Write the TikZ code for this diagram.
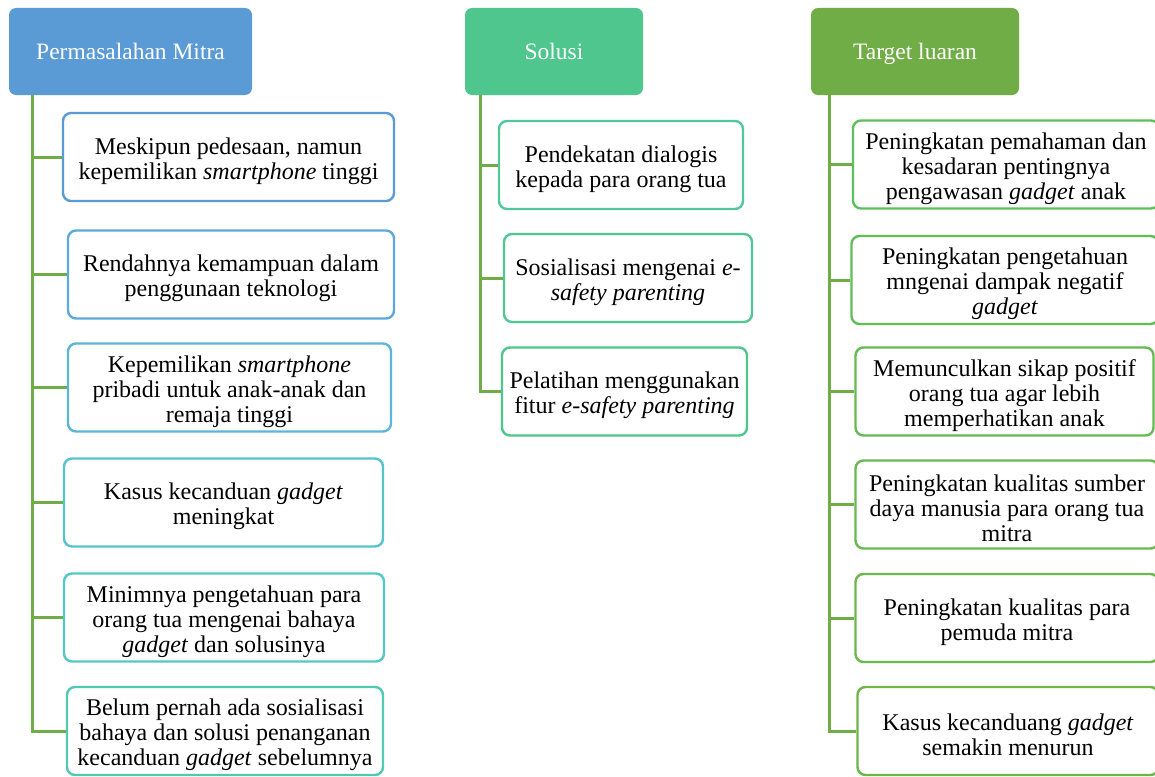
\documentclass[tikz,border=0pt]{standalone}
\usepackage{fontspec}
\setmainfont{Liberation Serif}
\usetikzlibrary{calc}
\definecolor{hblue}{HTML}{5B9BD5}
\definecolor{hteal}{HTML}{50C68F}
\definecolor{hgreen}{HTML}{70AD47}
\definecolor{la}{HTML}{5B9BD5}
\definecolor{lb}{HTML}{5DA9DA}
\definecolor{lc}{HTML}{5AB7D7}
\definecolor{ld}{HTML}{55C4CF}
\definecolor{le}{HTML}{52C9C4}
\definecolor{lf}{HTML}{50C8B2}
\definecolor{ma}{HTML}{52C79C}
\definecolor{mb}{HTML}{50C795}
\definecolor{mc}{HTML}{4FC68D}
\definecolor{ra}{HTML}{5CC15C}
\definecolor{rb}{HTML}{60BE57}
\definecolor{rc}{HTML}{64BB52}
\definecolor{rd}{HTML}{68B94F}
\definecolor{re}{HTML}{6BB74C}
\definecolor{rf}{HTML}{6EB54A}
\newcommand{\topstrut}{\rule{0pt}{24.5pt}}
\tikzset{
  hdr/.style={draw=none, fill=#1, rounded corners=7pt, text=white, align=center,
    font=\fontsize{23.5}{25}\selectfont, inner sep=0pt, text height=20.5pt, text depth=5pt},
  itembox/.style={draw=#1, line width=2.4pt, fill=white, rounded corners=8pt, align=center,
    font=\fontsize{24}{25}\selectfont, inner sep=0pt},
  trunk/.style={draw=hgreen, line width=3pt},
}
\begin{document}
\begin{tikzpicture}[x=1pt,y=-1pt]
\useasboundingbox (0,0) rectangle (1155,776);
\clip (0,0) rectangle (1155,776);
\fill[white] (0,0) rectangle (1155,776);
% headers
\node[hdr=hblue, minimum width=243pt, minimum height=87pt] (h1) at (130.5,51.5) {Permasalahan Mitra};
\node[hdr=hteal, minimum width=178pt, minimum height=87pt] (h2) at (554,51.5) {Solusi};
\node[hdr=hgreen, minimum width=208pt, minimum height=87pt] (h3) at (915,51.5) {Target luaran};
\coordinate (tA) at ([xshift=24pt]h1.south west);
\coordinate (tB) at ([xshift=16pt]h2.south west);
\coordinate (tC) at ([xshift=19pt]h3.south west);
% left column
\node[itembox=la, minimum width=331pt, minimum height=88pt] (l1) at (228.5,157) {\topstrut Meskipun pedesaan, namun\\kepemilikan \textit{smartphone} tinggi};
\node[itembox=lb, minimum width=326pt, minimum height=88pt] (l2) at (231,274.5) {\topstrut Rendahnya kemampuan dalam\\penggunaan teknologi};
\node[itembox=lc, minimum width=323pt, minimum height=88pt] (l3) at (229.5,387.5) {\topstrut Kepemilikan \textit{smartphone}\\pribadi untuk anak-anak dan\\remaja tinggi};
\node[itembox=ld, minimum width=319pt, minimum height=88pt] (l4) at (223.5,502.5) {\topstrut Kasus kecanduan \textit{gadget}\\meningkat};
\node[itembox=le, minimum width=320pt, minimum height=88pt] (l5) at (224,617.5) {\topstrut Minimnya pengetahuan para\\orang tua mengenai bahaya\\\textit{gadget} dan solusinya};
\node[itembox=lf, minimum width=316pt, minimum height=88pt] (l6) at (225,731) {\topstrut Belum pernah ada sosialisasi\\bahaya dan solusi penanganan\\kecanduan \textit{gadget} sebelumnya};
% middle column
\node[itembox=ma, minimum width=244pt, minimum height=88pt] (m1) at (621,165) {\topstrut Pendekatan dialogis\\kepada para orang tua};
\node[itembox=mb, minimum width=248pt, minimum height=88pt] (m2) at (628,278) {\topstrut Sosialisasi mengenai \textit{e-}\\\textit{safety parenting}};
\node[itembox=mc, minimum width=245pt, minimum height=88pt] (m3) at (624.5,391.5) {\topstrut Pelatihan menggunakan\\fitur \textit{e-safety parenting}};
% right column
\node[itembox=ra, minimum width=306pt, minimum height=88pt] (r1) at (1006,164.5) {\topstrut Peningkatan pemahaman dan\\kesadaran pentingnya\\pengawasan \textit{gadget} anak};
\node[itembox=rb, minimum width=307pt, minimum height=88pt] (r2) at (1005,280) {\topstrut Peningkatan pengetahuan\\mngenai dampak negatif\\\textit{gadget}};
\node[itembox=rc, minimum width=298pt, minimum height=88pt] (r3) at (1004.5,391.5) {\topstrut Memunculkan sikap positif\\orang tua agar lebih\\memperhatikan anak};
\node[itembox=rd, minimum width=303pt, minimum height=88pt] (r4) at (1007,504.5) {\topstrut Peningkatan kualitas sumber\\daya manusia para orang tua\\mitra};
\node[itembox=re, minimum width=303pt, minimum height=88pt] (r5) at (1007,618) {\topstrut Peningkatan kualitas para\\pemuda mitra};
\node[itembox=rf, minimum width=301pt, minimum height=88pt] (r6) at (1008,731) {\topstrut Kasus kecanduang \textit{gadget}\\semakin menurun};
% connectors
\draw[trunk] (tA) -- (tA |- l6.west) -- (l6.west);
\foreach \n in {l1,l2,l3,l4,l5} \draw[trunk] (tA |- \n.west) -- (\n.west);
\draw[trunk] (tB) -- (tB |- m3.west) -- (m3.west);
\foreach \n in {m1,m2} \draw[trunk] (tB |- \n.west) -- (\n.west);
\draw[trunk] (tC) -- (tC |- r6.west) -- (r6.west);
\foreach \n in {r1,r2,r3,r4,r5} \draw[trunk] (tC |- \n.west) -- (\n.west);
\end{tikzpicture}
\end{document}
